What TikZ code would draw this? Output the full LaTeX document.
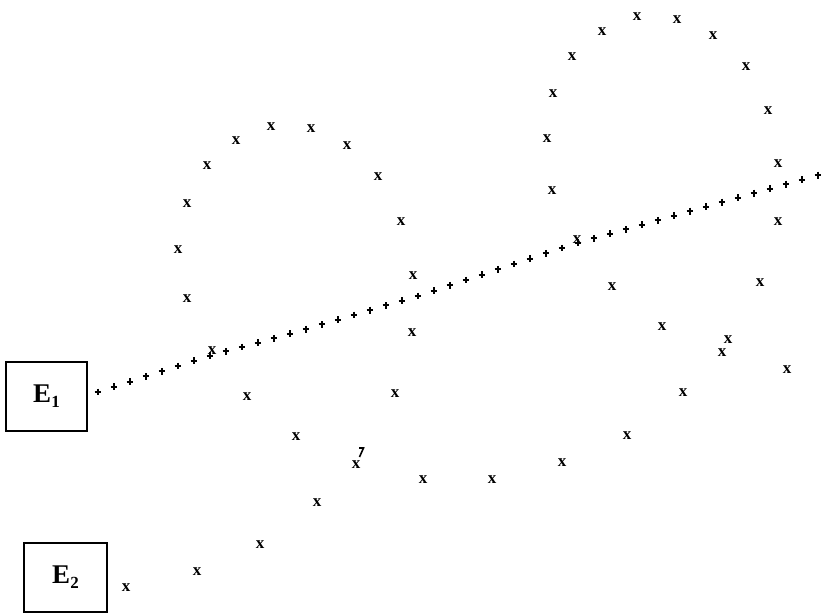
\documentclass[tikz,border=0pt]{standalone}
\usepackage{fontspec}
\setmainfont{Liberation Serif}
\begin{document}
\begin{tikzpicture}[x=1pt,y=-1pt,
  xmark/.style={inner sep=0pt, font=\bfseries\fontsize{17}{17}\selectfont},
  pmark/.pic={\draw[line width=2pt] (-3.4,0) -- (3.4,0) (0,-3.4) -- (0,3.4);},
  ebox/.style={draw, line width=1.3pt, minimum width=81pt, minimum height=69pt, inner sep=0pt, font=\bfseries\fontsize{27}{29}\selectfont}]
\useasboundingbox (0,0) rectangle (823,616);
% boxes
\node[ebox] (e1) at (46.5,396.5) {E\raisebox{-5pt}{\fontsize{17}{17}\selectfont 1}};
\node[ebox, minimum width=83pt] (e2) at (65.5,577.5) {E\raisebox{-5pt}{\fontsize{17}{17}\selectfont 2}};
% plus marks
\foreach \px/\py in {98/392,114/386.8,130/381.6,146/376.4,162/371.2,178/366,194/360.8,210/355.6,
  226/351.2,242/346.9,258/342.6,274/338.2,290/333.8,306/329.1,322/324.4,338/319.6,354/314.9,
  370/310.1,386/305.4,402/300.6,418/295.9,434/290.7,450/285.3,466/280,482/274.7,498/269.3,
  514/264,530/258.7,546/253.3,562/248,578/242.7,594/238.2,610/233.7,626/229.2,642/224.7,
  658/220.2,674/215.6,690/211.1,706/206.6,722/202.1,738/197.6,754/193.1,770/188.6,786/184.1,
  802/179.6,818/175.1}
  \pic at (\px,\py) {pmark};
% x marks
\foreach \qx/\qy [count=\i] in {187/299,178/250,187/204,207/166,236/141,271/127,311/129,347/146,
  378/177,401/222,413/276,412/333,395/394,247/397,296/437,356/465,317/503,260/545,197/572,
  126/588,423/480,492/480,562/463,627/436,683/393,787/370,722/353,728/340,760/283,662/327,
  612/287,778/222,778/164,768/111,746/67,713/36,677/20,637/17,602/32,572/57,553/94,547/139,
  552/191,212/351,577/240}
  \node[xmark] (x\i) at (\qx,\qy) {x};
% small stroke above the mark near (356,465)
\draw[line width=1.6pt] (359,448) -- (363.5,448) -- (359.5,457);
\end{tikzpicture}
\end{document}
